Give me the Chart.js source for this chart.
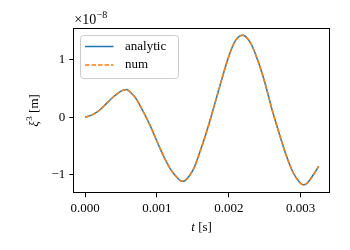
<!DOCTYPE html>
<html>
<head>
<meta charset="utf-8">
<script src="https://cdn.jsdelivr.net/npm/chart.js@4/dist/chart.umd.min.js"></script>
<style>
html,body{margin:0;padding:0;background:#fff;}
#wrap{width:350px;height:250px;position:relative;}
</style>
</head>
<body>
<div id="wrap"><canvas id="c" width="350" height="250"></canvas></div>
<script>
// time [s]
const times = [0, 0.0001, 0.0002, 0.0003, 0.0004, 0.0005, 0.00057, 0.0006, 0.0007, 0.0008, 0.0009, 0.0010,
  0.0011, 0.0012, 0.0013, 0.00135, 0.0014, 0.0015, 0.0016, 0.0017, 0.0018, 0.0019, 0.0020,
  0.0021, 0.0022, 0.0023, 0.0024, 0.0025, 0.0026, 0.0027, 0.0028, 0.0029, 0.0030, 0.00305,
  0.0031, 0.0032, 0.00325];
// xi^3 in units of 1e-8 m
const analytic = [0, 0.04, 0.12, 0.24, 0.36, 0.455, 0.48, 0.47, 0.34, 0.12, -0.13, -0.42,
  -0.70, -0.93, -1.08, -1.12, -1.10, -0.93, -0.60, -0.22, 0.21, 0.65, 1.06,
  1.35, 1.43, 1.30, 1.00, 0.61, 0.14, -0.28, -0.67, -0.98, -1.16, -1.18,
  -1.14, -0.96, -0.86];
const num = [0, 0.04, 0.12, 0.24, 0.36, 0.455, 0.48, 0.47, 0.34, 0.12, -0.13, -0.42,
  -0.70, -0.93, -1.08, -1.12, -1.10, -0.93, -0.60, -0.22, 0.21, 0.65, 1.06,
  1.35, 1.43, 1.30, 1.00, 0.61, 0.14, -0.28, -0.67, -0.98, -1.16, -1.18,
  -1.14, -0.96, -0.86];
const xTicks = [0, 0.001, 0.002, 0.003];
const yTicks = [-1, 0, 1];
const seriesNames = ['analytic', 'num'];
const yExponent = '−8';

const FONT = '"Liberation Serif", "DejaVu Serif", serif';
const BLUE = '#1f77b4', ORANGE = '#ff7f0e';

const pts = arr => times.map((t, i) => ({x: t, y: arr[i]}));

const framePlugin = {
  id: 'frame',
  afterDraw(chart) {
    const {ctx, chartArea: a} = chart;
    ctx.save();
    ctx.strokeStyle = '#000';
    ctx.lineWidth = 1;
    ctx.strokeRect(Math.round(a.left) + 0.5, Math.round(a.top) + 0.5,
                   Math.round(a.right - a.left) - 1, Math.round(a.bottom - a.top) - 1);
    // offset text
    ctx.fillStyle = '#000';
    ctx.textBaseline = 'alphabetic';
    ctx.font = '14px ' + FONT;
    ctx.fillText('×10', a.left + 1, 24);
    const w = ctx.measureText('×10').width;
    ctx.font = '10px ' + FONT;
    ctx.fillText(yExponent, a.left + 1 + w + 0.5, 18);
    // x title
    ctx.font = 'italic 13px ' + FONT;
    const tW = ctx.measureText('t').width;
    ctx.font = '13px ' + FONT;
    const sW = ctx.measureText(' [s]').width;
    const cx = (a.left + a.right) / 2;
    let x0 = cx - (tW + sW) / 2;
    ctx.font = 'italic 13px ' + FONT;
    ctx.fillText('t', x0, 231);
    ctx.font = '13px ' + FONT;
    ctx.fillText(' [s]', x0 + tW, 231);
    // y title
    ctx.save();
    ctx.translate(38, (a.top + a.bottom) / 2);
    ctx.rotate(-Math.PI / 2);
    ctx.font = 'italic 13px ' + FONT;
    const xiW = ctx.measureText('ξ').width;
    ctx.font = '9px ' + FONT;
    const supW = ctx.measureText('3').width;
    ctx.font = '13px ' + FONT;
    const mW = ctx.measureText(' [m]').width;
    let y0 = -(xiW + supW + mW) / 2;
    ctx.font = 'italic 13px ' + FONT;
    ctx.fillText('ξ', y0, 0);
    ctx.font = '9px ' + FONT;
    ctx.fillText('3', y0 + xiW + 0.5, -6);
    ctx.font = '13px ' + FONT;
    ctx.fillText(' [m]', y0 + xiW + supW + 0.5, 0);
    ctx.restore();
    // legend
    const lx = 80.5, ly = 35.5, lw = 98, lh = 43, r = 3;
    ctx.beginPath();
    ctx.moveTo(lx + r, ly);
    ctx.arcTo(lx + lw, ly, lx + lw, ly + lh, r);
    ctx.arcTo(lx + lw, ly + lh, lx, ly + lh, r);
    ctx.arcTo(lx, ly + lh, lx, ly, r);
    ctx.arcTo(lx, ly, lx + lw, ly, r);
    ctx.closePath();
    ctx.fillStyle = 'rgba(255,255,255,0.8)';
    ctx.fill();
    ctx.strokeStyle = '#cccccc';
    ctx.lineWidth = 1;
    ctx.stroke();
    const ds = chart.data.datasets;
    const rows = [46.5, 65];
    ds.forEach((d, i) => {
      ctx.beginPath();
      ctx.strokeStyle = d.borderColor;
      ctx.lineWidth = 1.5;
      ctx.setLineDash(d.borderDash || []);
      ctx.moveTo(85, rows[i]);
      ctx.lineTo(113.5, rows[i]);
      ctx.stroke();
      ctx.setLineDash([]);
      ctx.fillStyle = '#000';
      ctx.font = '13px ' + FONT;
      ctx.textBaseline = 'middle';
      ctx.fillText(d.label, 125, rows[i]);
    });
    ctx.restore();
  }
};

new Chart(document.getElementById('c'), {
  type: 'line',
  data: {
    datasets: [
      {label: seriesNames[0], data: pts(analytic), borderColor: BLUE, borderWidth: 1.5, order: 1,
       pointRadius: 0, tension: 0.35, fill: false},
      {label: seriesNames[1], data: pts(num), borderColor: ORANGE, borderWidth: 1.5, order: 0,
       borderDash: [4.5, 2], pointRadius: 0, tension: 0.35, fill: false}
    ]
  },
  options: {
    responsive: false,
    animation: false,
    devicePixelRatio: 1,
    layout: {padding: {top: 28, right: 20, left: 0, bottom: 0}},
    plugins: {legend: {display: false}, tooltip: {enabled: false}, title: {display: false}},
    scales: {
      x: {
        type: 'linear',
        min: -0.000163, max: 0.003408,
        afterBuildTicks: s => { s.ticks = xTicks.map(v => ({value: v})); },
        afterFit: s => { s.height = 56.7; },
        ticks: {color: '#000', font: {family: FONT, size: 13}, padding: 3,
                maxRotation: 0, autoSkip: false, callback: v => v.toFixed(3)},
        grid: {display: true, drawOnChartArea: false, drawTicks: true, tickLength: 4, color: '#000'},
        border: {display: false}
      },
      y: {
        type: 'linear',
        min: -1.33, max: 1.556,
        afterBuildTicks: s => { s.ticks = yTicks.map(v => ({value: v})); },
        afterFit: s => { s.width = 73.3; },
        ticks: {color: '#000', font: {family: FONT, size: 13}, padding: 4,
                callback: v => v < 0 ? '−' + Math.abs(v) : String(v)},
        grid: {display: true, drawOnChartArea: false, drawTicks: true, tickLength: 4, color: '#000'},
        border: {display: false}
      }
    }
  },
  plugins: [framePlugin]
});
</script>
</body>
</html>
